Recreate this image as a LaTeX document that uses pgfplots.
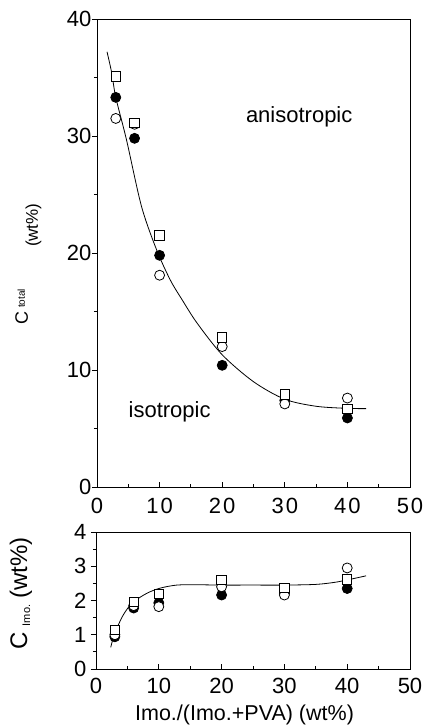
\documentclass[border=0pt]{standalone}
\usepackage{fontspec}
\setmainfont{Liberation Sans}
\usepackage{pgfplots}
\pgfplotsset{compat=1.18}

\pgfplotsset{
  panel/.style={
    scale only axis, anchor=south west,
    xmin=0, xmax=50,
    xtick={0,10,...,50}, minor xtick={5,15,...,45},
    xtick pos=bottom, ytick pos=left,
    xtick align=inside, ytick align=outside,
    major tick length=5pt, minor tick length=3pt,
    axis line style={line width=0.9pt},
    every tick/.style={line width=0.8pt, black},
    tick label style={font=\fontsize{22}{24}\selectfont},
    /pgf/number format/assume math mode=true,
  },
  filled/.style={only marks, mark=*, mark size=5pt, mark options={fill=black, draw=black, line width=0.8pt}},
  open/.style={only marks, mark=*, mark size=5pt, mark options={fill=white, draw=black, line width=0.8pt}},
  box/.style={only marks, mark=square*, mark size=4.7pt, mark options={fill=white, draw=black, line width=0.8pt}},
  fit/.style={no marks, smooth, black, line width=0.8pt},
}

\begin{document}
\begin{tikzpicture}
\path[use as bounding box] (0,0) rectangle (425pt,726pt);

% upper panel: total concentration
\begin{axis}[panel,
  at={(97pt,239pt)}, width=313pt, height=468pt,
  ymin=0, ymax=40,
  ytick={0,10,...,40}, minor ytick={5,15,...,35},
  xticklabels={0,1\kern2pt0,2\kern2pt0,3\kern2pt0,4\kern2pt0,5\kern2pt0},
  xticklabel style={yshift=-8pt},
  yticklabel style={xshift=3pt},
  ylabel={{\fontsize{18}{18}\selectfont C}\hspace{4pt}\raisebox{3pt}{\fontsize{10}{10}\selectfont total}\hspace{42pt}\raisebox{-10pt}{\fontsize{17}{17}\selectfont (wt\%)}},
  ylabel style={at={(axis description cs:-0.219,0.476)}, anchor=center, rotate=0},
]
\addplot[fit] coordinates {(1.6,37.2) (2.35,35.4) (3,33.3) (4.7,29.7) (7.1,24.0) (9.5,20.3) (11.7,17.7) (13.6,16.0) (16,14.0) (20,11.3) (25,9.0) (30,7.5) (35,6.9) (40,6.72) (43,6.7)};
\addplot[filled] coordinates {(3,33.3) (6,29.8) (10,19.8) (20,10.4) (30,7.4) (40,5.9)};
\addplot[open] coordinates {(3,31.5) (6,31.0) (10,18.1) (20,12.0) (30,7.1) (40,7.6)};
\addplot[box] coordinates {(3,35.1) (6,31.1) (10,21.5) (20,12.8) (30,7.9) (40,6.7)};
\node[font=\fontsize{22}{24}\selectfont] at (axis cs:32.3,31.6) {anisotropic};
\node[font=\fontsize{22}{24}\selectfont] at (axis cs:11.6,6.4) {isotropic};
\end{axis}

% lower panel: Imo. concentration
\begin{axis}[panel,
  at={(96pt,57pt)}, width=314pt, height=137pt,
  ymin=0, ymax=4,
  ytick={0,1,...,4}, minor ytick={0.5,1.5,...,3.5},
  xticklabel style={yshift=-6pt},
  yticklabel style={xshift=-1pt},
  ylabel={{\fontsize{24}{24}\selectfont C}\hspace{6pt}\raisebox{-3pt}{\fontsize{11}{11}\selectfont Imo.}\hspace{6pt}{\fontsize{24}{24}\selectfont (wt\%)}},
  ylabel style={at={(axis description cs:-0.239,0.551)}, anchor=center, rotate=0},
  xlabel={Imo./(Imo.+PVA) (wt\%)},
  xlabel style={at={(axis description cs:0.473,0)}, anchor=center, yshift=-45.5pt, font=\fontsize{21.5}{24}\selectfont},
]
\addplot[fit] coordinates {(2.34,0.63) (3,1.05) (4.35,1.58) (5.84,1.94) (8.1,2.21) (10.2,2.36) (12.85,2.45) (16,2.46) (20,2.45) (25,2.45) (30,2.45) (35,2.47) (38,2.53) (40,2.6) (43,2.72)};
\addplot[filled] coordinates {(3,0.94) (6,1.78) (10,1.93) (20,2.16) (30,2.2) (40,2.35)};
\addplot[open] coordinates {(3,1.0) (6,1.85) (10,1.82) (20,2.4) (30,2.16) (40,2.95)};
\addplot[box] coordinates {(3,1.14) (6,1.96) (10,2.19) (20,2.6) (30,2.36) (40,2.62)};
\end{axis}
\end{tikzpicture}
\end{document}
